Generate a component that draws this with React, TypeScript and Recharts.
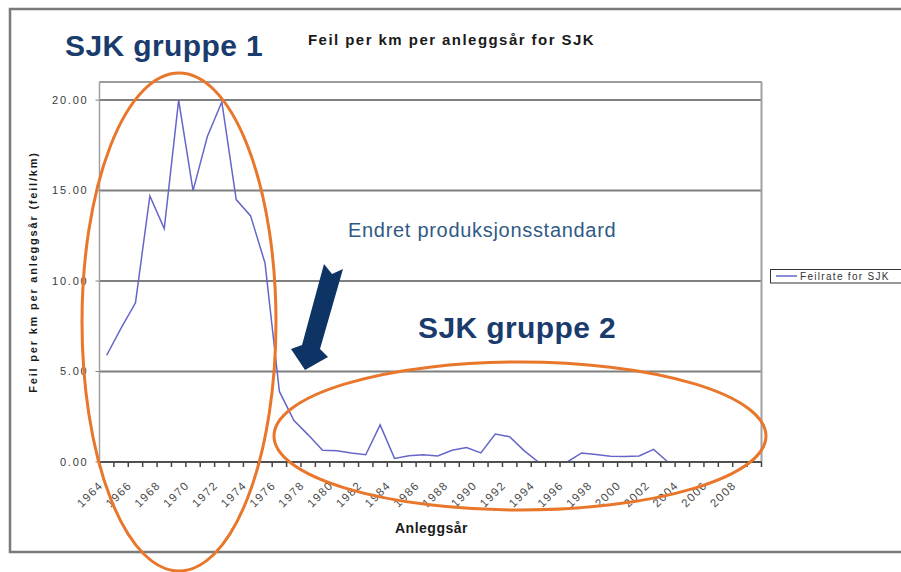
import { CartesianGrid, Line, LineChart, ReferenceLine, XAxis, YAxis } from 'recharts';

// Anleggsår (kategorier) og feilrate per år
const YEARS = [
  1964, 1965, 1966, 1967, 1968, 1969, 1970, 1971, 1972, 1973,
  1974, 1975, 1976, 1977, 1978, 1979, 1980, 1981, 1982, 1983,
  1984, 1985, 1986, 1987, 1988, 1989, 1990, 1991, 1992, 1993,
  1994, 1995, 1996, 1997, 1998, 1999, 2000, 2001, 2002, 2003,
  2004, 2005, 2006, 2007, 2008, 2009,
];

const FEILRATE: (number | null)[] = [
  5.9, 7.4, 8.8, 14.7, 12.9, 20.0, 15.0, 18.0, 19.9, 14.5,
  13.6, 11.0, 3.9, 2.3, 1.5, 0.65, 0.62, 0.5, 0.4, 2.05,
  0.2, 0.35, 0.4, 0.33, 0.65, 0.8, 0.5, 1.55, 1.4, 0.63,
  0, 0, 0, 0.5, 0.42, 0.32, 0.3, 0.33, 0.7, 0,
  null, null, null, null, null, null,
];

const Y_TICKS = [0, 5, 10, 15, 20];
const LABEL_YEARS = YEARS.filter((y) => y % 2 === 0);

const FONT = '"Liberation Sans", Arial, sans-serif';
const SERIES = '#6666c8';
const NAVY = '#1a3c6c';
const ORANGE = '#e8772c';

const data = YEARS.map((year, i) => ({ year, value: FEILRATE[i] }));

// tick marks sit between categories, labels on every other category centre
const xTicks = [
  ...YEARS.map((y) => y - 0.5),
  YEARS[YEARS.length - 1] + 0.5,
  ...LABEL_YEARS,
].sort((a, b) => a - b);

function YearTick(props: any) {
  const { x, y, payload } = props;
  const v = payload.value as number;
  if (!Number.isInteger(v)) {
    return <line x1={x} y1={y} x2={x} y2={y + 5} stroke="#444" strokeWidth={1.5} />;
  }
  return (
    <text
      transform={`translate(${x - 3},${y + 24}) rotate(-45)`}
      textAnchor="end"
      fontFamily={FONT}
      fontSize={11.5}
      letterSpacing={1.4}
      fill="#4a4a4a"
    >
      {v}
    </text>
  );
}

export default function App() {
  return (
    <div style={{ position: 'absolute', left: 0, top: 0, width: 901, height: 572, background: '#fff', overflow: 'hidden' }}>
      <LineChart
        width={901}
        height={572}
        data={data}
        margin={{ top: 82, right: 139.5, bottom: 80, left: 39.5 }}
      >
        <CartesianGrid horizontal vertical={false} stroke="#7f7f7f" strokeWidth={2} />
        <XAxis
          dataKey="year"
          type="number"
          domain={[1963.5, 2009.5]}
          ticks={xTicks}
          interval={0}
          tick={<YearTick />}
          tickLine={false}
          tickSize={0}
          tickMargin={0}
          height={30}
          axisLine={{ stroke: '#505050', strokeWidth: 2 }}
        />
        <YAxis
          width={60}
          domain={[0, 21]}
          ticks={Y_TICKS}
          tickFormatter={(v: number) => v.toFixed(2)}
          tick={{ fill: '#3a3a3a', fontSize: 11, fontFamily: FONT, letterSpacing: 1.8 }}
          tickSize={4}
          tickMargin={7}
          tickLine={{ stroke: '#808080' }}
          axisLine={{ stroke: '#a0a0a0', strokeWidth: 1.5 }}
        />
        <ReferenceLine y={21} stroke="#a6a6a6" strokeWidth={1.5} />
        <ReferenceLine x={2009.5} stroke="#a0a0a0" strokeWidth={2} />
        <Line
          type="linear"
          dataKey="value"
          stroke={SERIES}
          strokeWidth={1.5}
          dot={false}
          connectNulls={false}
          isAnimationActive={false}
        />
      </LineChart>

      <svg
        width={901}
        height={572}
        style={{ position: 'absolute', left: 0, top: 0, pointerEvents: 'none' }}
        fontFamily={FONT}
      >
        <rect x={10} y={9} width={920} height={543} fill="none" stroke="#7a7a7a" strokeWidth={2.5} />

        <text x={308} y={45} fontSize={15} fontWeight="bold" letterSpacing={1.45} fill="#1a1a1a">
          Feil per km per anleggsår for SJK
        </text>
        <text
          transform="translate(37,272) rotate(-90)"
          textAnchor="middle"
          fontSize={11}
          fontWeight="bold"
          letterSpacing={1.8}
          fill="#1a1a1a"
        >
          Feil per km per anleggsår (feil/km)
        </text>
        <text x={395} y={533} fontSize={14} fontWeight="bold" letterSpacing={0.5} fill="#1a1a1a">
          Anleggsår
        </text>

        <rect x={770.5} y={269.5} width={150} height={13.5} fill="#fff" stroke="#333" strokeWidth={1} />
        <line x1={776} y1={276} x2={797} y2={276} stroke={SERIES} strokeWidth={1.5} />
        <text x={800} y={280} fontSize={10} letterSpacing={1.3} fill="#333">
          Feilrate for SJK
        </text>

        <text x={65} y={56} fontSize={30} fontWeight="bold" letterSpacing={0.4} fill={NAVY}>
          SJK gruppe 1
        </text>
        <text x={418} y={338} fontSize={30} fontWeight="bold" letterSpacing={0.4} fill={NAVY}>
          SJK gruppe 2
        </text>
        <text x={348} y={237} fontSize={20} letterSpacing={0.7} fill="#2f5a86">
          Endret produksjonsstandard
        </text>

        <polygon
          points="324,264 332,274 343,269 320,349 328,357 305,370 291,349 302,345"
          fill="#0e3466"
        />

        <ellipse cx={179} cy={322} rx={97} ry={249} fill="none" stroke={ORANGE} strokeWidth={3} />
        <ellipse cx={520} cy={436} rx={246} ry={74} fill="none" stroke={ORANGE} strokeWidth={3} />
      </svg>
    </div>
  );
}
